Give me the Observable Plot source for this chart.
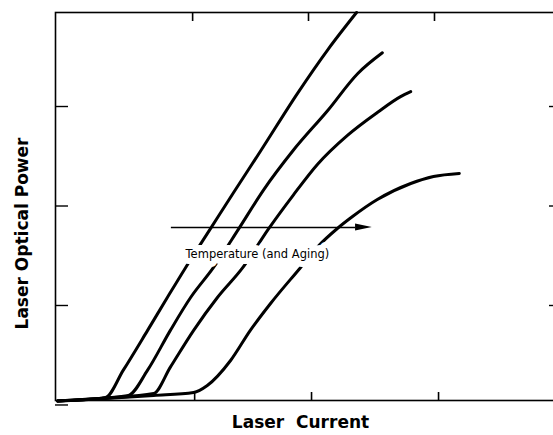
<!DOCTYPE html>
<html>
<head>
<meta charset="utf-8">
<script src="https://cdn.jsdelivr.net/npm/d3@7"></script>
<script src="https://cdn.jsdelivr.net/npm/@observablehq/plot@0.6"></script>
<style>
  html, body { margin: 0; padding: 0; background: #fff; }
  svg { display: block; }
</style>
</head>
<body>
<div id="chart"></div>
<script>
// ---- Data (arbitrary units) ----
const xLabel = "Laser  Current";
const yLabel = "Laser Optical Power";
const annotation = "Temperature (and Aging)";

const current1 = [0.4, 4.9, 9.9, 13.4, 18.2, 22.1, 25.7, 30.6, 35.2, 40.5, 47.8, 53.8, 59.5];
const power1   = [0.04, 0.05, 0.075, 0.35, 0.75, 1.08, 1.38, 1.77, 2.136, 2.55, 3.13, 3.57, 3.945];

const current2 = [0.4, 9.9, 14.4, 18.2, 22.7, 26.7, 31.2, 36.2, 41.1, 47.0, 53.8, 59.7, 64.6];
const power2   = [0.04, 0.07, 0.095, 0.35, 0.75, 1.08, 1.38, 1.77, 2.16, 2.56, 2.96, 3.33, 3.54];

const current3 = [0.4, 9.9, 19.4, 22.7, 27.3, 32.0, 37.0, 42.1, 47.0, 51.8, 57.7, 63.6, 68.2, 70.2];
const power3   = [0.04, 0.07, 0.115, 0.38, 0.75, 1.08, 1.38, 1.77, 2.11, 2.42, 2.71, 2.94, 3.10, 3.15];

const current4 = [0.4, 9.9, 19.4, 27.3, 30.0, 34.6, 38.5, 42.5, 48.4, 52.0, 55.7, 58.7, 63.6, 70.2, 74.7, 79.8];
const power4   = [0.04, 0.065, 0.095, 0.125, 0.196, 0.447, 0.75, 1.02, 1.38, 1.60, 1.774, 1.894, 2.065, 2.226, 2.296, 2.327];

const yTicksLeft  = [0, 1, 2, 3];
const yTicksRight = [1, 2, 3];
const xTicksBottom = [27.5, 50.6, 75.7];
const xTicksTop    = [27.1, 50.0, 74.9];

const arrowX = [22.9, 59.3, 62.6]; // start, head base, tip
const arrowY = 1.784;
const annotationX = 39.9;
const annotationY = 1.51;

// ---- Build tables ----
const series = [
  [current1, power1], [current2, power2], [current3, power3], [current4, power4]
];
const curves = series.flatMap(([xs, ys], k) => xs.map((x, i) => ({curve: k + 1, x, y: ys[i]})));
const shaft = [{x1: arrowX[0], x2: arrowX[1], y: arrowY}];
const headHalf = 0.036;
const head = [
  {x: arrowX[1], y1: arrowY - headHalf, y2: arrowY + headHalf},
  {x: arrowX[2], y1: arrowY, y2: arrowY}
];

const chart = Plot.plot({
  width: 553,
  height: 435,
  marginLeft: 55,
  marginTop: 12,
  marginBottom: 35,
  marginRight: -8,
  style: {background: "#fff", color: "#000"},
  x: {domain: [0, 100], axis: null},
  y: {domain: [0.045, 3.945], axis: null},
  marks: [
    Plot.frame({stroke: "#000", strokeWidth: 1.6}),
    Plot.axisY(yTicksLeft, {anchor: "left", tickSize: -13, tickFormat: () => "", label: null, strokeWidth: 1.4}),
    Plot.axisY(yTicksRight, {anchor: "right", tickSize: -13, tickFormat: () => "", label: null, strokeWidth: 1.4}),
    Plot.axisX(xTicksBottom, {anchor: "bottom", tickSize: -8, tickFormat: () => "", label: null, strokeWidth: 1.6}),
    Plot.axisX(xTicksTop, {anchor: "top", tickSize: -8, tickFormat: () => "", label: null, strokeWidth: 1.6}),
    Plot.line(curves, {x: "x", y: "y", z: "curve", stroke: "#000", strokeWidth: 3, strokeLinejoin: "round", strokeLinecap: "round", curve: "monotone-x"}),
    Plot.text([annotation], {x: annotationX, y: annotationY, text: d => d, fill: "#000", stroke: "#fff", strokeWidth: 12, fontSize: 11.5, fontFamily: "DejaVu Sans", letterSpacing: "0.2px"}),
    Plot.ruleY(shaft, {x1: "x1", x2: "x2", y: "y", stroke: "#000", strokeWidth: 1.3}),
    Plot.areaY(head, {x: "x", y1: "y1", y2: "y2", fill: "#000"}),
    Plot.text([xLabel], {frameAnchor: "bottom", dx: -8, dy: 27, text: d => d, fontSize: 17, fontWeight: "bold", fontFamily: "DejaVu Sans", fill: "#000"}),
    Plot.text([yLabel], {frameAnchor: "left", textAnchor: "middle", dx: -33, dy: 27, rotate: -90, text: d => d, fontSize: 17, fontWeight: "bold", fontFamily: "DejaVu Sans", fill: "#000"})
  ]
});
document.getElementById("chart").appendChild(chart);
</script>
</body>
</html>
